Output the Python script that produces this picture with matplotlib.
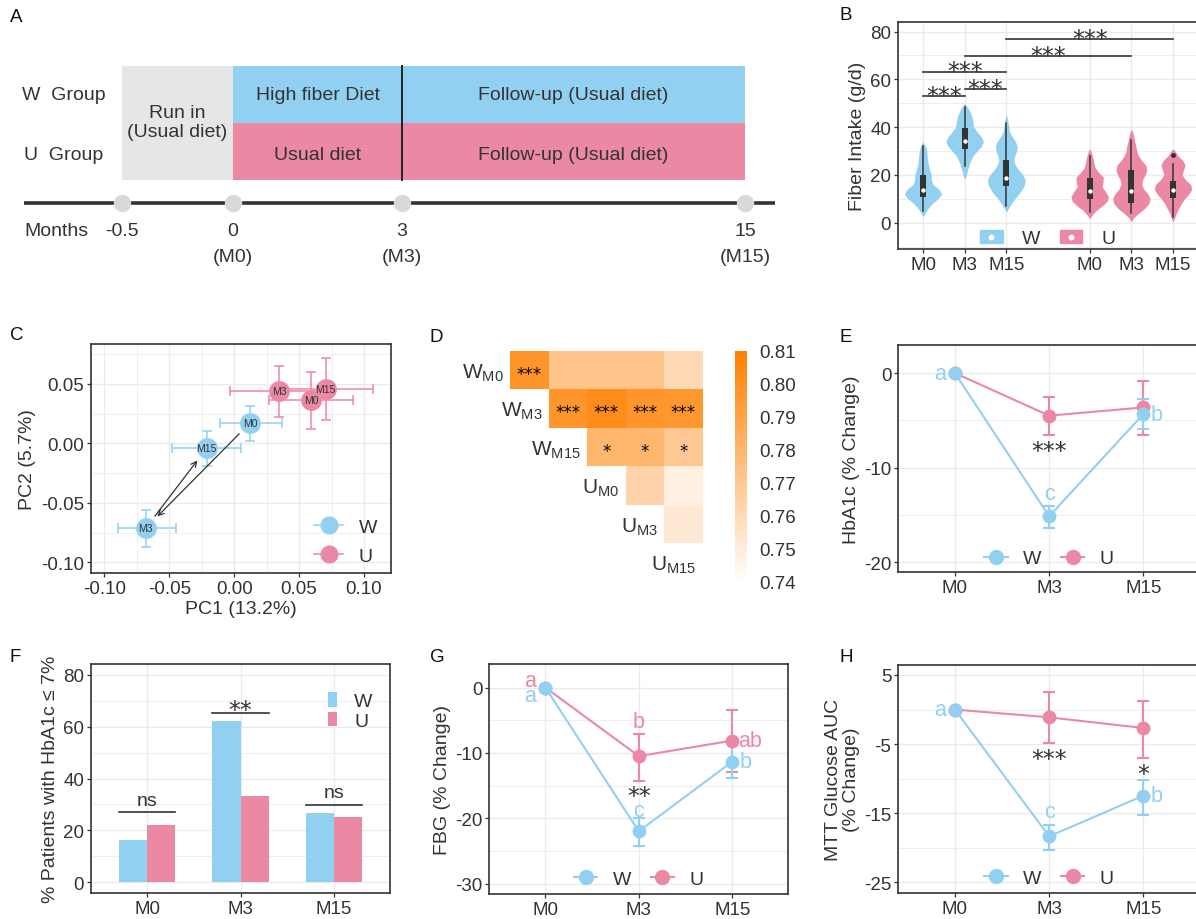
import numpy as np
import matplotlib.pyplot as plt
from matplotlib.patches import Rectangle, Patch
from matplotlib.lines import Line2D
from matplotlib.colors import LinearSegmentedColormap
from matplotlib.legend_handler import HandlerTuple
from matplotlib.ticker import FormatStrFormatter

plt.rcParams['font.family'] = ['Liberation Sans', 'DejaVu Sans']
plt.rcParams['mathtext.fontset'] = 'custom'
plt.rcParams['mathtext.rm'] = 'Liberation Sans'
plt.rcParams['axes.unicode_minus'] = False

BLUE = '#92D0F2'
PINK = '#EB88A3'
DARK = '#333333'
GRID = '#EBEBEB'
TICK_FS = 13.5
TITLE_FS = 14
LEG_FS = 14

# ---------------- data ----------------
# A: study design
groups = ['W  Group', 'U  Group']
diet_w = ['High fiber Diet', 'Follow-up (Usual diet)']
diet_u = ['Usual diet', 'Follow-up (Usual diet)']
month_lab = ['-0.5', '0', '3', '15']
month_code = ['', '(M0)', '(M3)', '(M15)']

# B: fiber intake violins (y levels, half widths) + box stats
vio_pos = [1, 2, 3, 5, 6, 7]
vio_col = [BLUE, BLUE, BLUE, PINK, PINK, PINK]
vio_y = [
    [2.5, 4, 6, 8, 10, 12, 14, 16, 18, 20, 22, 25, 28, 30, 32, 34],
    [18, 20, 22, 25, 28, 30, 32, 34, 36, 38, 40, 42, 44, 46, 48, 50],
    [4.5, 6, 8, 10, 12, 14, 16, 18, 20, 22, 24, 26, 28, 30, 32, 34, 36, 38, 40, 43, 45.5],
    [1.7, 3, 5, 7, 9, 11, 13, 15, 17, 19, 21, 23, 25, 27, 29, 31],
    [0.3, 2, 4, 6, 8, 10, 12, 14, 16, 18, 20, 22, 24, 26, 28, 30, 32, 34, 36, 38, 39.2],
    [0.3, 2, 4, 6, 8, 10, 12, 14, 16, 18, 20, 22, 24, 26, 28, 30, 31],
]
vio_hw = [
    [0, 0.05, 0.12, 0.22, 0.36, 0.45, 0.38, 0.24, 0.2, 0.2, 0.16, 0.12, 0.1, 0.09, 0.06, 0],
    [0, 0.04, 0.07, 0.12, 0.2, 0.3, 0.4, 0.45, 0.4, 0.3, 0.22, 0.2, 0.18, 0.14, 0.08, 0],
    [0, 0.05, 0.12, 0.2, 0.3, 0.38, 0.44, 0.45, 0.4, 0.3, 0.22, 0.18, 0.2, 0.25, 0.26, 0.22, 0.14, 0.08, 0.06, 0.03, 0],
    [0, 0.05, 0.15, 0.3, 0.42, 0.45, 0.38, 0.3, 0.32, 0.33, 0.22, 0.13, 0.1, 0.08, 0.05, 0],
    [0, 0.05, 0.18, 0.32, 0.42, 0.45, 0.4, 0.3, 0.25, 0.27, 0.33, 0.37, 0.35, 0.25, 0.17, 0.13, 0.11, 0.08, 0.06, 0.03, 0],
    [0, 0.04, 0.08, 0.14, 0.2, 0.28, 0.38, 0.45, 0.42, 0.3, 0.22, 0.25, 0.29, 0.24, 0.12, 0.05, 0],
]
box_q1 = [10.7, 30.9, 15.2, 10.0, 8.1, 10.3]
box_med = [13.5, 34.4, 18.8, 13.1, 13.1, 13.5]
box_q3 = [19.8, 39.7, 26.3, 18.8, 22.1, 17.3]
whisk_lo = [5.1, 23.9, 7.2, 4.5, 4.0, 2.4]
whisk_hi = [31.9, 48.3, 41.6, 28.1, 34.6, 24.5]
outlier_x = [7]
outlier_y = [28.5]
b_ticks = ['M0', 'M3', 'M15', 'M0', 'M3', 'M15']
b_sig = [(1, 2, 53.1), (2, 3, 55.9), (1, 3, 63.2), (2, 6, 69.8), (3, 7, 76.8)]

# C: PCoA centroids
pc_group = ['W', 'W', 'W', 'U', 'U', 'U']
pc_lab = ['M0', 'M15', 'M3', 'M3', 'M0', 'M15']
pc1 = [0.0122, -0.0212, -0.0682, 0.0348, 0.0594, 0.0705]
pc2 = [0.0172, -0.0041, -0.0714, 0.0444, 0.0363, 0.0458]
pc1_lo = [-0.0109, -0.0481, -0.0892, -0.0032, 0.0271, 0.0350]
pc1_hi = [0.0366, 0.0052, -0.0448, 0.0720, 0.0913, 0.1066]
pc2_lo = [0.0023, -0.0187, -0.0868, 0.0220, 0.0121, 0.0198]
pc2_hi = [0.0318, 0.0107, -0.0560, 0.0654, 0.0604, 0.0716]

# D: similarity heatmap (upper triangle)
hm_lab = [('W', 'M0'), ('W', 'M3'), ('W', 'M15'), ('U', 'M0'), ('U', 'M3'), ('U', 'M15')]
hm_rows = [
    [0.7985, 0.772, 0.772, 0.772, 0.761],
    [0.798, 0.8034, 0.798, 0.797],
    [0.780, 0.780, 0.770],
    [0.7635, 0.748],
    [0.752],
]
hm_sig = [
    ['***', '', '', '', ''],
    ['***', '***', '***', '***'],
    ['*', '*', '*'],
    ['', ''],
    [''],
]

tp = ['M0', 'M3', 'M15']
# E: HbA1c % change
e_w = [0, -15.14, -4.33]
e_w_lo = [0, -16.4, -5.9]
e_w_hi = [0, -14.1, -2.75]
e_u = [0, -4.5, -3.63]
e_u_lo = [0, -6.55, -6.5]
e_u_hi = [0, -2.5, -0.88]

# F: % patients HbA1c <= 7%
f_w = [16.3, 62.3, 26.7]
f_u = [22.1, 33.4, 25.2]
f_sig = [('ns', 27.0), ('**', 65.1), ('ns', 29.9)]

# G: FBG % change
g_w = [0, -22.0, -11.34]
g_w_lo = [0, -24.2, -13.9]
g_w_hi = [0, -19.98, -8.4]
g_u = [0, -10.5, -8.12]
g_u_lo = [0, -14.3, -12.9]
g_u_hi = [0, -7.1, -3.42]

# H: MTT glucose AUC % change
h_w = [0, -18.35, -12.46]
h_w_lo = [0, -20.26, -15.2]
h_w_hi = [0, -16.7, -10.2]
h_u = [0, -1.13, -2.67]
h_u_lo = [0, -4.9, -7.0]
h_u_hi = [0, 2.6, 1.3]

# ---------------- figure ----------------
W, H = 1196, 920
fig = plt.figure(figsize=(W / 100, H / 100), dpi=100)


def px_axes(l, t, r, b):
    return fig.add_axes([l / W, 1 - b / H, (r - l) / W, (b - t) / H])


def gg(ax, ymajor, yminor, xmajor=None, xminor=None):
    ax.set_yticks(ymajor)
    ax.set_yticks(yminor, minor=True)
    if xmajor is not None:
        ax.set_xticks(xmajor)
    if xminor is not None:
        ax.set_xticks(xminor, minor=True)
    ax.grid(which='major', color=GRID, lw=1.0)
    ax.grid(which='minor', color=GRID, lw=0.6)
    ax.set_axisbelow(True)
    for s in ax.spines.values():
        s.set_color(DARK)
        s.set_linewidth(1.2)
    ax.tick_params(which='major', length=3, width=0.9, color=DARK,
                   labelsize=TICK_FS, labelcolor=DARK, pad=2)
    ax.tick_params(which='minor', length=0)


def stars(ax, x, y, s, size=17, dy=0, color=DARK):
    # center of the asterisk glyph at (x, y) + dy pixels
    em = size * 100 / 72
    ax.annotate(s, (x, y), xytext=(0, (dy - 0.58 * em) * 0.72),
                textcoords='offset points', ha='center', va='baseline',
                fontsize=size, color=color, family='DejaVu Sans')


def letter(ax, x, y, s, color, dx=0, dy=0, ha='center'):
    ax.annotate(s, (x, y), xytext=(dx * 0.72, dy * 0.72), textcoords='offset points',
                ha=ha, va='center', fontsize=15.5, color=color)


def panel(x, y, s):
    fig.text(x / W, 1 - y / H, s, ha='center', va='center', fontsize=13.5, color='#111111')


# ---- A ----
axA = px_axes(0, 0, 800, 280)
axA.set_xlim(0, 800)
axA.set_ylim(280, 0)
axA.axis('off')
mx = [122, 233, 402, 745]
axA.add_patch(Rectangle((mx[0], 67), mx[1] - mx[0], 114, color='#E6E6E6', lw=0))
axA.add_patch(Rectangle((mx[1], 67), mx[3] - mx[1], 57, color=BLUE, lw=0))
axA.add_patch(Rectangle((mx[1], 124), mx[3] - mx[1], 57, color=PINK, lw=0))
axA.plot([mx[2], mx[2]], [67, 181], color='#222222', lw=1.4)
AFS = 14
axA.text(64, 96, groups[0], ha='center', va='center', fontsize=AFS, color=DARK)
axA.text(64, 155, groups[1], ha='center', va='center', fontsize=AFS, color=DARK)
axA.text((mx[0] + mx[1]) / 2, 123, 'Run in\n(Usual diet)', ha='center', va='center',
         fontsize=AFS, color=DARK, linespacing=1.2)
for i in range(2):
    cx = (mx[i + 1] + mx[i + 2]) / 2
    axA.text(cx, 96, diet_w[i], ha='center', va='center', fontsize=AFS, color=DARK)
    axA.text(cx, 155, diet_u[i], ha='center', va='center', fontsize=AFS, color=DARK)
axA.plot([24, 775], [204, 204], color=DARK, lw=2.6, solid_capstyle='butt')
axA.plot(mx, [204] * 4, 'o', ms=12.5, color='#D9D9D9', mec='none')
axA.text(24, 231, 'Months', ha='left', va='center', fontsize=AFS, color=DARK)
for x, a, b in zip(mx, month_lab, month_code):
    axA.text(x, 231, a, ha='center', va='center', fontsize=AFS, color=DARK)
    axA.text(x, 257, b, ha='center', va='center', fontsize=AFS, color=DARK)

# ---- B ----
axB = px_axes(898, 23, 1198, 250)
axB.set_xlim(0.4, 7.6)
axB.set_ylim(-11, 84)
gg(axB, [0, 20, 40, 60, 80], [-10, 10, 30, 50, 70], xmajor=vio_pos)
axB.set_xticklabels(b_ticks)
for i in range(6):
    c = vio_pos[i]
    y = np.array(vio_y[i])
    hw = np.array(vio_hw[i])
    axB.fill_betweenx(y, c - hw, c + hw, color=vio_col[i], lw=0)
    axB.plot([c, c], [whisk_lo[i], whisk_hi[i]], color=DARK, lw=1.1)
    axB.add_patch(Rectangle((c - 0.07, box_q1[i]), 0.14, box_q3[i] - box_q1[i],
                            color=DARK, lw=0))
    axB.plot(c, box_med[i], 'o', ms=3.2, color='white', mec='none')
axB.plot(outlier_x, outlier_y, 'o', ms=3.5, color=DARK, mec='none')
for x0, x1, y in b_sig:
    axB.plot([x0, x1], [y, y], color=DARK, lw=1.2)
    stars(axB, (x0 + x1) / 2, y, '***', dy=7)
axB.set_ylabel('Fiber Intake (g/d)', fontsize=TITLE_FS, color=DARK, labelpad=3)
hB = [(Patch(color=BLUE), Line2D([], [], marker='o', ls='', ms=3.2, color='white')),
      (Patch(color=PINK), Line2D([], [], marker='o', ls='', ms=3.2, color='white'))]
axB.legend(hB, ['W', 'U'], handler_map={tuple: HandlerTuple(ndivide=1, pad=0)},
           loc='lower center', bbox_to_anchor=(0.5, -0.07), ncol=2, frameon=False,
           fontsize=LEG_FS, handlelength=1.15, handleheight=0.62, columnspacing=1.0,
           handletextpad=1.0, labelcolor=DARK)

# ---- C ----
axC = px_axes(90.7, 345, 390.7, 574)
axC.set_xlim(-0.1105, 0.1206)
axC.set_ylim(-0.109, 0.0836)
gg(axC, [-0.10, -0.05, 0.0, 0.05], [-0.075, -0.025, 0.025, 0.075],
   xmajor=[-0.10, -0.05, 0.0, 0.05, 0.10], xminor=[-0.075, -0.025, 0.025, 0.075])
axC.xaxis.set_major_formatter(FormatStrFormatter('%.2f'))
axC.yaxis.set_major_formatter(FormatStrFormatter('%.2f'))
for i in range(6):
    col = BLUE if pc_group[i] == 'W' else PINK
    axC.errorbar(pc1[i], pc2[i],
                 xerr=[[pc1[i] - pc1_lo[i]], [pc1_hi[i] - pc1[i]]],
                 yerr=[[pc2[i] - pc2_lo[i]], [pc2_hi[i] - pc2[i]]],
                 fmt='none', ecolor=col, elinewidth=1.1, capsize=3.5, capthick=1.1, zorder=2)
for i in range(6):
    col = BLUE if pc_group[i] == 'W' else PINK
    axC.plot(pc1[i], pc2[i], 'o', ms=15, color=col, mec='none', zorder=3)
    axC.text(pc1[i], pc2[i], pc_lab[i], ha='center', va='center', fontsize=7.5,
             color=DARK, zorder=4)
# arrows M0 -> M3 and M3 -> M15 (group W)
axC.annotate('', xy=(pc1[2], pc2[2]), xytext=(pc1[0], pc2[0]),
             arrowprops=dict(arrowstyle='->', color=DARK, lw=0.9, shrinkA=11, shrinkB=12),
             zorder=5)
axC.annotate('', xy=(pc1[1], pc2[1]), xytext=(pc1[2], pc2[2]),
             arrowprops=dict(arrowstyle='->', color=DARK, lw=0.9, shrinkA=11, shrinkB=11),
             zorder=5)
axC.set_xlabel('PC1 (13.2%)', fontsize=TITLE_FS, color=DARK, labelpad=2)
axC.set_ylabel('PC2 (5.7%)', fontsize=TITLE_FS, color=DARK, labelpad=3)
hC = [Line2D([], [], marker='o', ms=12, color=BLUE, lw=1.1),
      Line2D([], [], marker='o', ms=12, color=PINK, lw=1.1)]
axC.legend(hC, ['W', 'U'], loc='lower right', bbox_to_anchor=(1.0, -0.025),
           frameon=False, fontsize=LEG_FS, handlelength=1.5, labelspacing=0.6,
           handletextpad=0.8, labelcolor=DARK, borderaxespad=0.3)

# ---- D ----
axD = px_axes(471.7, 351.7, 702.7, 582.7)
n = len(hm_lab)
mat = np.full((n, n), np.nan)
sig = [[''] * n for _ in range(n)]
for i, row in enumerate(hm_rows):
    for k, v in enumerate(row):
        mat[i, i + 1 + k] = v
        sig[i][i + 1 + k] = hm_sig[i][k]
cmap = LinearSegmentedColormap.from_list('wo', ['#FFFFFF', '#FF7F00'])
mesh = axD.pcolormesh(np.arange(n + 1) - 0.5, np.arange(n + 1) - 0.5,
                      np.ma.masked_invalid(mat), cmap=cmap, vmin=0.74, vmax=0.81)
axD.set_xlim(-0.5, n - 0.5)
axD.set_ylim(n - 0.5, -0.5)
axD.axis('off')
for i in range(n):
    g, t = hm_lab[i]
    axD.text(i + 0.33, i + 0.05, g + r'$_{\mathregular{' + t + '}}$', ha='right',
             va='center', fontsize=15, color=DARK)
    for j in range(n):
        if sig[i][j]:
            axD.text(j, i + 0.1, sig[i][j], ha='center', va='center', fontsize=12,
                     color='black', family='DejaVu Sans')
axCB = px_axes(735, 351.7, 746.7, 583)
cb = fig.colorbar(mesh, cax=axCB)
cb.outline.set_visible(False)
cb.set_ticks([0.74, 0.75, 0.76, 0.77, 0.78, 0.79, 0.80, 0.81])
cb.ax.yaxis.set_major_formatter(FormatStrFormatter('%.2f'))
cb.ax.tick_params(length=0, labelsize=TICK_FS, labelcolor=DARK, pad=9)


# ---- E, G, H line panels ----
def line_panel(ax, w, wlo, whi, u, ulo, uhi, leg_y):
    x = np.arange(1, 4)
    ax.errorbar(x, u, yerr=[np.array(u) - np.array(ulo), np.array(uhi) - np.array(u)],
                color=PINK, lw=1.5, marker='o', ms=10, mec='none', elinewidth=1.5,
                capsize=4.5, capthick=1.5, label='U')
    ax.errorbar(x, w, yerr=[np.array(w) - np.array(wlo), np.array(whi) - np.array(w)],
                color=BLUE, lw=1.5, marker='o', ms=10, mec='none', elinewidth=1.5,
                capsize=4.5, capthick=1.5, label='W')
    ax.set_xlim(0.4, 3.6)
    ax.set_xticks(x)
    ax.set_xticklabels(tp)
    hs = [Line2D([], [], marker='o', ms=10, color=BLUE, lw=1.5),
          Line2D([], [], marker='o', ms=10, color=PINK, lw=1.5)]
    ax.legend(hs, ['W', 'U'], loc='lower center', bbox_to_anchor=(0.5, leg_y), ncol=2,
              frameon=False, fontsize=LEG_FS, handlelength=1.2, columnspacing=1.0,
              handletextpad=0.8, labelcolor=DARK)


axE = px_axes(898.3, 345.7, 1200, 573.3)
axE.set_ylim(-21.06, 3.0)
gg(axE, [0, -10, -20], [-5, -15])
line_panel(axE, e_w, e_w_lo, e_w_hi, e_u, e_u_lo, e_u_hi, -0.055)
letter(axE, 1, e_w[0], 'a', BLUE, dx=-9, ha='right')
letter(axE, 2, e_w[1], 'c', BLUE, dy=23)
letter(axE, 3, e_w[2], 'b', BLUE, dx=7, ha='left')
stars(axE, 2, -7.5, '***')
axE.set_ylabel('HbA1c (% Change)', fontsize=TITLE_FS, color=DARK, labelpad=3)

axG = px_axes(489.3, 665, 788.3, 895)
axG.set_ylim(-31.6, 3.6)
gg(axG, [0, -10, -20, -30], [-5, -15, -25])
line_panel(axG, g_w, g_w_lo, g_w_hi, g_u, g_u_lo, g_u_hi, -0.05)
letter(axG, 1, g_u[0], 'a', PINK, dx=-9, dy=7, ha='right')
letter(axG, 1, g_w[0], 'a', BLUE, dx=-9, dy=-8, ha='right')
letter(axG, 2, g_u[1], 'b', PINK, dy=35)
letter(axG, 2, g_w[1], 'c', BLUE, dy=21)
letter(axG, 3, g_u[2], 'ab', PINK, dx=6, ha='left')
letter(axG, 3, g_w[2], 'b', BLUE, dx=7, ha='left')
stars(axG, 2, -15.6, '**')
axG.set_ylabel('FBG (% Change)', fontsize=TITLE_FS, color=DARK, labelpad=3)

axH = px_axes(898.3, 665.7, 1200, 894)
axH.set_ylim(-26.55, 6.49)
gg(axH, [5, -5, -15, -25], [0, -10, -20])
line_panel(axH, h_w, h_w_lo, h_w_hi, h_u, h_u_lo, h_u_hi, -0.05)
letter(axH, 1, h_w[0], 'a', BLUE, dx=-9, ha='right')
letter(axH, 2, h_w[1], 'c', BLUE, dy=25)
letter(axH, 3, h_w[2], 'b', BLUE, dx=7, ha='left')
stars(axH, 2, -6.2, '***')
stars(axH, 3, -8.4, '*')
axH.set_ylabel('MTT Glucose AUC\n(% Change)', fontsize=TITLE_FS, color=DARK, labelpad=3,
               linespacing=1.05)

# ---- F ----
axF = px_axes(91, 665, 390, 894)
axF.set_xlim(0.4, 3.6)
axF.set_ylim(-4.1, 84.1)
xf = np.arange(1, 4)
gg(axF, [0, 20, 40, 60, 80], [10, 30, 50, 70], xmajor=xf)
axF.bar(xf - 0.15, f_w, width=0.3, color=BLUE, label='W')
axF.bar(xf + 0.15, f_u, width=0.3, color=PINK, label='U')
axF.set_xticklabels(tp)
for x, (s, y) in zip(xf, f_sig):
    axF.plot([x - 0.3, x + 0.3], [y, y], color=DARK, lw=1.2)
    if s == 'ns':
        axF.annotate(s, (x, y), xytext=(0, 2.5), textcoords='offset points', ha='center',
                     va='bottom', fontsize=14, color=DARK)
    else:
        stars(axF, x, y, s, dy=10)
axF.set_ylabel('% Patients with HbA1c ≤ 7%', fontsize=TITLE_FS, color=DARK, labelpad=3)
axF.legend(loc='upper right', bbox_to_anchor=(1.0, 0.955), frameon=False, fontsize=LEG_FS,
           handlelength=0.42, handleheight=0.8, labelspacing=0.08, handletextpad=0.9,
           labelcolor=DARK)

# panel letters
panel(16, 17, 'A')
panel(846, 15, 'B')
panel(17, 336, 'C')
panel(436, 338, 'D')
panel(846, 337, 'E')
panel(15, 658, 'F')
panel(437, 658, 'G')
panel(846, 658, 'H')

fig.savefig('out.png', dpi=100)
